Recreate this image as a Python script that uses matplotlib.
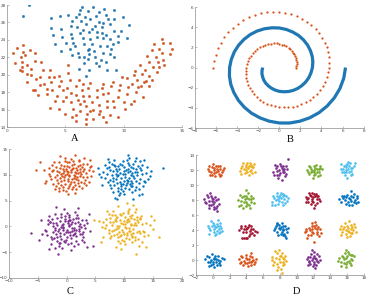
import numpy as np
import matplotlib
matplotlib.use('Agg')
import matplotlib.pyplot as plt

# MATLAB default colour order
BLUE = '#0072BD'
ORANGE = '#D95319'
YELLOW = '#EDB120'
PURPLE = '#7E2F8E'
GREEN = '#77AC30'
LBLUE = '#4DBEEE'
DRED = '#A2142F'

# ---- panel A : blob + crescent -------------------------------------------
a_blue = [(1.38, 26.8), (1.89, 27.96), (6.45, 27.8), (7.4, 27.8), (6.9, 27.3), (8.35, 27.5), (9.2, 27.4),
          (3.8, 26.5), (4.55, 26.8), (5.25, 26.9), (6.15, 27.0), (6.7, 26.65), (7.65, 26.8), (8.5, 26.9),
          (9.2, 26.4), (9.9, 26.65), (5.55, 26.2), (6.35, 26.2), (7.15, 26.35), (7.85, 26.1), (8.65, 26.35),
          (3.75, 25.4), (4.6, 25.25), (5.5, 25.6), (6.0, 25.5), (6.8, 25.8), (7.55, 25.55), (8.15, 25.45),
          (8.8, 25.8), (10.45, 25.75), (9.75, 25.05), (3.95, 24.55), (4.75, 24.35), (5.45, 24.7), (6.25, 24.8),
          (7.0, 24.9), (7.7, 24.9), (8.1, 24.8), (9.15, 25.05), (4.1, 23.55), (5.1, 23.65), (5.6, 24.25),
          (6.5, 24.25), (7.15, 24.1), (7.75, 24.3), (8.25, 24.25), (8.8, 24.15), (10.25, 24.25), (9.55, 23.8),
          (4.6, 22.7), (5.4, 22.95), (5.85, 23.35), (6.6, 23.5), (7.3, 23.55), (7.95, 23.3), (8.6, 23.3),
          (9.1, 23.5), (6.05, 22.5), (6.9, 22.9), (7.45, 22.75), (8.2, 22.45), (8.85, 22.35), (5.55, 22.3),
          (6.15, 22.05), (7.05, 22.35), (7.55, 22.05), (8.05, 21.7), (9.15, 22.05), (6.6, 21.35), (7.6, 21.4),
          (8.5, 21.45), (6.15, 20.7), (7.05, 20.6), (8.55, 20.6), (9.3, 20.55), (6.75, 19.9),
          (6.3, 27.4), (7.9, 27.2), (5.9, 26.6), (8.2, 25.9), (6.5, 25.1), (7.3, 25.2), (9.5, 24.5),
          (8.5, 24.6), (7.0, 23.0), (8.9, 23.0), (5.7, 23.6), (6.6, 22.0), (7.9, 21.0), (6.9, 21.8)]

a_orange = [(0.5, 22.45), (0.7, 21.4), (0.85, 23.1), (1.2, 22.05), (1.4, 23.45), (1.35, 22.65), (1.3, 21.5),
            (1.25, 20.9), (1.3, 20.4), (1.55, 22.25), (1.75, 21.1), (1.95, 22.9), (1.75, 20.1), (1.7, 19.15),
            (2.1, 19.95), (2.1, 20.7), (2.4, 22.5), (2.4, 21.6), (2.5, 19.55), (2.95, 21.45), (3.1, 20.5),
            (2.4, 18.25), (2.7, 17.7), (2.8, 18.8), (3.2, 19.0), (3.4, 18.4), (3.65, 20.5), (3.6, 19.7),
            (3.8, 19.15), (3.7, 16.2), (4.1, 17.05), (3.9, 18.2), (4.0, 19.7), (4.3, 17.6), (4.5, 19.9),
            (4.45, 18.7), (4.5, 16.05), (4.65, 19.25), (4.8, 18.2), (5.0, 15.55), (5.1, 17.45), (5.2, 21.1),
            (5.25, 20.2), (5.15, 18.5), (5.4, 19.35), (5.45, 17.9), (5.45, 16.9), (5.6, 15.15), (5.7, 16.1),
            (5.9, 17.65), (5.95, 18.7), (6.15, 19.45), (6.1, 17.15), (6.25, 16.7), (5.9, 14.75), (6.4, 18.25),
            (6.55, 18.9), (6.55, 17.55), (6.6, 17.05), (6.75, 16.4), (6.75, 14.95), (6.8, 14.4), (6.85, 15.55),
            (6.95, 18.5), (7.05, 17.6), (7.1, 19.05), (7.25, 16.9), (7.4, 16.0), (7.4, 14.95), (7.7, 18.25),
            (7.75, 17.45), (7.9, 16.55), (7.85, 15.5), (8.1, 18.5), (8.2, 17.75), (8.25, 19.0), (8.5, 14.6),
            (8.6, 17.05), (8.65, 17.9), (8.8, 15.35), (8.95, 18.7), (9.05, 19.2), (9.1, 17.05), (9.2, 16.3),
            (9.55, 15.15), (9.55, 17.45), (9.6, 18.2), (9.7, 18.8), (9.85, 19.8), (10.0, 16.9), (10.15, 16.05),
            (10.25, 17.75), (10.35, 18.6), (10.3, 19.65), (10.6, 16.65), (10.7, 19.0), (10.85, 19.95),
            (10.95, 20.45), (11.05, 18.0), (11.1, 19.4), (11.4, 21.1), (11.5, 18.75), (11.65, 17.45),
            (11.55, 20.05), (11.85, 20.5), (11.9, 19.3), (12.0, 22.15), (12.15, 21.45), (12.15, 19.9),
            (12.2, 18.75), (12.4, 22.85), (12.5, 20.85), (12.6, 23.5), (12.75, 22.05), (12.85, 20.35),
            (12.9, 21.5), (13.05, 22.95), (13.25, 24.15), (13.3, 22.45), (13.4, 23.65), (13.45, 21.1),
            (14.0, 23.7), (14.1, 23.0), (14.0, 22.35), (13.4, 21.75), (13.0, 20.9), (12.4, 19.45),
            (11.7, 19.2), (11.25, 18.6), (10.85, 17.05), (1.1, 20.5), (2.25, 18.2), (2.8, 19.75),
            (3.4, 17.85), (4.8, 17.05), (6.25, 15.9), (7.1, 15.9), (7.95, 15.9), (8.55, 16.3),
            (8.25, 15.15), (5.95, 15.35)]

# ---- panel B : two spirals (angle in degrees, radius) ---------------------
b_blue_deg = [180, 190, 200, 210, 220, 230, 240, 250, 260, 270, 280, 290, 300, 310, 320, 330, 340, 350,
              360, 370, 380, 390, 400, 410, 420, 430, 440, 450, 460, 470, 480, 490, 500, 510, 520, 530,
              540, 550, 560, 570, 580, 590, 600, 610, 620, 630, 640, 650, 660, 670, 680, 690, 700, 710, 720]
b_blue_r = [1.57, 1.66, 1.75, 1.83, 1.92, 2.01, 2.09, 2.18, 2.27, 2.36, 2.44, 2.53, 2.62, 2.71, 2.79, 2.88,
            2.97, 3.05, 3.14, 3.23, 3.32, 3.40, 3.49, 3.58, 3.67, 3.75, 3.84, 3.93, 4.01, 4.10, 4.19, 4.28,
            4.36, 4.45, 4.54, 4.62, 4.71, 4.80, 4.89, 4.97, 5.06, 5.15, 5.24, 5.32, 5.41, 5.50, 5.59, 5.67,
            5.76, 5.85, 5.93, 6.02, 6.11, 6.20, 6.28]
b_orange_deg = [0, 6, 12, 18, 24, 30, 36, 42, 48, 54, 60, 66, 72, 78, 84, 90, 96, 102, 108, 114, 120, 126,
                132, 138, 144, 150, 156, 162, 168, 174, 180, 186, 192, 198, 204, 210, 216, 222, 228, 234,
                240, 246, 252, 258, 264, 270, 276, 282, 288, 294, 300, 306, 312, 318, 324, 330, 336, 342,
                348, 354, 360, 366, 372, 378, 384, 390, 396, 402, 408, 414, 420, 426, 432, 438, 444, 450,
                456, 462, 468, 474, 480, 486, 492, 498, 504, 510, 516, 522, 528, 534, 540]
b_orange_r = [1.57, 1.62, 1.68, 1.73, 1.78, 1.83, 1.88, 1.94, 1.99, 2.04, 2.09, 2.15, 2.20, 2.25, 2.30,
              2.36, 2.41, 2.46, 2.51, 2.57, 2.62, 2.67, 2.72, 2.78, 2.83, 2.88, 2.93, 2.98, 3.04, 3.09,
              3.14, 3.19, 3.25, 3.30, 3.35, 3.40, 3.46, 3.51, 3.56, 3.61, 3.67, 3.72, 3.77, 3.82, 3.87,
              3.93, 3.98, 4.03, 4.08, 4.14, 4.19, 4.24, 4.29, 4.35, 4.40, 4.45, 4.50, 4.56, 4.61, 4.66,
              4.71, 4.76, 4.82, 4.87, 4.92, 4.97, 5.03, 5.08, 5.13, 5.18, 5.24, 5.29, 5.34, 5.39, 5.45,
              5.50, 5.55, 5.60, 5.65, 5.71, 5.76, 5.81, 5.86, 5.92, 5.97, 6.02, 6.07, 6.13, 6.18, 6.23, 6.28]

# ---- panel C : four gaussian-looking blobs (offsets in tenths) -----------
c_centers = [(0.5, 10.0), (10.0, 9.8), (0.0, -0.5), (10.0, 0.0)]
c_colors = [ORANGE, BLUE, PURPLE, YELLOW]
c_offsets = [
    [(-3, 5), (12, -8), (-15, 2), (6, 14), (-22, -10), (18, 6), (0, -3), (-8, -17), (25, 12), (-30, 8),
     (9, -20), (-5, 24), (14, 18), (-18, -25), (3, 9), (-11, 11), (20, -14), (-26, -4), (7, -6), (-2, -12),
     (30, -5), (-14, 20), (11, 3), (-7, -1), (16, -22), (-35, 14), (2, 30), (-20, -15), (24, 22), (-9, 7),
     (5, -28), (-16, -6), (13, 10), (-4, 18), (19, -2), (-24, 16), (8, -13), (-12, -30), (28, 4), (-1, 0),
     (-29, -18), (15, -10), (4, 20), (-10, -9), (22, 15), (-6, 12), (10, -3), (-19, 5), (1, -18), (-27, 24),
     (17, 26), (-13, -2), (6, -24), (-32, -8), (26, -16), (-3, -25), (12, 13), (-8, 27), (33, 10), (-21, 0),
     (9, 6), (-15, -20), (0, 15), (21, -25), (-36, 2), (4, -8), (-5, 8), (14, -16), (-23, -22), (18, 19),
     (-9, -5), (27, -10), (-1, 24), (7, 0), (-17, 14), (11, -27), (-28, 10), (3, -14), (23, 8), (-12, 3),
     (-40, -12), (35, 16), (-6, -32), (16, 28), (-19, 25), (29, -20), (2, 5), (-10, 17), (8, 21), (-25, -28),
     (13, -5), (-3, -8), (20, 1), (-14, -12), (5, 11), (-31, 20), (38, -2), (-7, 32), (10, -35), (-22, 8),
     (31, 22), (-18, -32), (0, -22), (15, 4), (-11, -24), (24, -4), (-33, -2), (6, 26), (-4, 2), (19, 11),
     (40, 8), (36, 28), (38, 18), (-45, 10), (-42, -16), (9, 38), (-16, 36), (-2, -38), (26, 33), (34, -14),
     (-58, 10), (-52, 25)],
    [(4, -7), (-13, 9), (16, -1), (-6, -15), (21, 13), (-19, -4), (2, 4), (9, 22), (-24, 11), (12, -19),
     (-3, 28), (27, -6), (-10, -23), (6, 14), (-16, 19), (18, 8), (-1, -9), (-28, -12), (14, -13), (-7, 6),
     (24, 20), (-21, 24), (8, -26), (-12, -1), (31, 3), (0, 17), (-17, -18), (11, 1), (-5, -5), (20, -22),
     (-30, 4), (5, 30), (15, 24), (-9, 13), (26, -14), (-2, -30), (-23, -24), (10, 10), (-14, 3), (3, -18),
     (29, 12), (-8, -12), (17, -4), (-26, 18), (7, -10), (-4, 21), (22, 2), (-11, -29), (13, -32), (-19, 9),
     (1, -2), (34, -10), (-15, 14), (6, 7), (-33, -5), (19, 29), (-6, -20), (12, 17), (-20, -10), (25, -25),
     (-1, 10), (8, -4), (-27, 26), (16, 15), (-10, 1), (2, -24), (30, 22), (-13, -14), (21, -10), (-3, 3),
     (9, 34), (-36, 8), (14, -20), (-18, 30), (4, -14), (-8, 23), (23, 8), (-24, -17), (11, -9), (-5, -26),
     (38, 5), (-30, 15), (0, -36), (18, -28), (-15, -6), (7, 25), (33, -20), (-22, 2), (3, 12), (-11, 19),
     (27, 16), (-40, -3), (13, 5), (-7, -34), (20, 35), (-2, -16), (36, -12), (-17, 22), (10, -15), (-25, -7),
     (45, 0), (40, 18), (-45, 16), (-38, -18), (25, -38), (-16, -42), (-12, -45), (30, -35), (6, 40), (-28, 32),
     (67, 15), (42, -6), (-43, 3), (15, -44), (28, 29), (-33, 22), (-9, -38), (47, 10), (35, 30), (-20, -32)],
    [(-6, 3), (11, -12), (-17, 7), (4, 18), (-24, -6), (15, 11), (1, -1), (-10, -20), (22, -3), (-29, 14),
     (7, -17), (-3, 26), (19, 21), (-14, -27), (5, 6), (-12, 15), (23, -9), (-21, -1), (9, -3), (-4, -10),
     (28, -16), (-16, 22), (13, 1), (-9, 4), (17, -24), (-32, 9), (0, 32), (-22, -18), (26, 17), (-7, 10),
     (3, -30), (-18, -9), (10, 13), (-2, 16), (21, 0), (-26, 20), (6, -11), (-13, -33), (30, 7), (2, -5),
     (-27, -15), (14, -7), (5, 23), (-11, -13), (24, 10), (-8, 8), (12, -1), (-20, 2), (-1, -21), (-30, 26),
     (18, 28), (-15, -4), (8, -27), (-34, -11), (27, -22), (-5, -24), (11, 19), (-10, 29), (32, 2), (-23, 5),
     (7, 9), (-17, -23), (2, 12), (20, -30), (-38, -1), (6, -6), (-6, 1), (16, -14), (-25, -20), (16, 22),
     (-11, -8), (29, -5), (-3, 20), (9, 2), (-19, 12), (13, -32), (-28, 13), (1, -16), (25, 4), (-13, 0),
     (-42, -9), (36, 12), (-8, -36), (14, 33), (-21, 30), (31, -26), (4, 7), (-9, 24), (6, 17), (-27, -30),
     (12, -9), (-1, -6), (22, 5), (-16, -16), (3, 15), (-33, 17), (40, -4), (-5, 38), (8, -40), (-24, 11),
     (33, 18), (-20, -36), (-2, -26), (17, -2), (-12, -28), (26, -10), (-35, -4), (4, 28), (-6, -2), (20, 14),
     (-62, -7), (-15, -48), (45, -33), (-44, 18), (38, 30), (-30, -38), (35, -35), (-18, 42), (20, 40), (-48, -22)],
    [(3, -4), (-14, 10), (17, 2), (-5, -16), (22, 12), (-18, -7), (1, 5), (10, 20), (-25, 8), (13, -18),
     (-2, 27), (26, -8), (-11, -21), (7, 15), (-15, 17), (19, 6), (-3, -10), (-27, -13), (15, -12), (-6, 7),
     (23, 19), (-22, 22), (9, -25), (-11, -3), (30, 5), (1, 18), (-18, -17), (12, 2), (-4, -6), (19, -21),
     (-31, 3), (6, 29), (14, 23), (-8, 12), (27, -13), (-1, -29), (-24, -23), (9, 11), (-13, 1), (4, -17),
     (28, 14), (-9, -11), (16, -5), (-25, 17), (8, -9), (-5, 22), (21, 3), (-10, -28), (14, -31), (-20, 8),
     (2, -1), (33, -9), (-16, 13), (5, 8), (-34, -4), (18, 28), (-7, -19), (11, 16), (-21, -9), (24, -24),
     (0, 11), (9, -3), (-26, 25), (17, 14), (-9, 0), (3, -23), (29, 21), (-12, -15), (22, -11), (-2, 4),
     (8, 33), (-37, 9), (13, -21), (-19, 29), (5, -13), (-7, 24), (24, 9), (-23, -18), (10, -8), (-4, -27),
     (37, 6), (-31, 14), (1, -35), (19, -27), (-14, -5), (6, 26), (34, -19), (-21, 3), (4, 13), (-12, 18),
     (28, 17), (-39, -2), (12, 4), (-8, -33), (21, 34), (-1, -15), (35, -11), (-16, 23), (11, -14), (-26, -6),
     (44, 2), (41, -17), (-44, 11), (-36, -20), (26, -37), (-15, -40), (52, 12), (30, -30), (5, 45), (-30, 30),
     (60, -20), (20, -53), (-52, 12), (46, 20), (-40, -30), (38, -40), (-10, 40), (15, 42), (-5, -44), (50, -5)],
]

# ---- panel D : 4x5 grid of small clusters (offsets in tenths) ------------
d_centers = [(0.2, 12.0), (4.1, 12.2), (8.0, 11.9), (12.0, 11.9), (15.9, 12.2),
             (-0.1, 7.8), (3.9, 8.0), (7.9, 8.2), (11.85, 8.2), (16.2, 8.1),
             (0.3, 4.3), (4.1, 4.1), (8.1, 4.1), (11.85, 3.9), (16.0, 4.1),
             (0.1, 0.0), (4.1, 0.0), (7.9, 0.0), (11.9, 0.0), (15.8, 0.2)]
d_colors = [ORANGE, YELLOW, PURPLE, GREEN, LBLUE,
            PURPLE, GREEN, LBLUE, DRED, BLUE,
            LBLUE, DRED, BLUE, ORANGE, YELLOW,
            BLUE, ORANGE, YELLOW, PURPLE, GREEN]
d_offsets = [
    [(-8, 2), (-5, -6), (-3, 4), (0, 0), (2, -3), (4, 6), (6, 1), (9, -2), (11, 3), (-6, -1), (-2, 8), (1, -8), (3, 2),
     (5, -5), (7, 5), (-4, -3), (-1, 3), (2, 6), (8, -6), (-7, 5), (0, -4), (4, -1), (6, -8), (-3, -7), (10, 0)],
    [(-9, -3), (-6, 3), (-4, -1), (-2, 5), (0, -4), (1, 1), (3, 7), (5, -2), (7, 2), (9, -5), (-7, -7), (-3, -6), (2, -8),
     (4, 4), (6, -6), (8, 6), (-5, 7), (-1, 2), (3, -3), (6, 2), (-8, 1), (0, 8), (2, 3), (5, 5), (-2, -2)],
    [(-8, -2), (-5, 4), (-3, -5), (-1, 1), (1, 6), (3, -2), (5, 3), (7, -4), (8, 2), (-6, 8), (-2, -9), (0, -3), (2, -12),
     (4, 7), (6, -7), (-4, 0), (-1, -6), (2, 4), (5, -1), (7, 6), (-7, -5), (0, 9), (3, 1), (9, 16), (-3, 6)],
    [(-8, 1), (-6, -4), (-4, 5), (-2, 0), (0, -6), (2, 4), (4, -2), (6, 3), (8, -5), (10, 2), (-5, 7), (-3, -2), (1, 1),
     (3, 8), (5, -7), (7, 6), (-7, -1), (-1, -9), (2, -4), (6, -1), (-3, 3), (0, 6), (4, 2), (8, 4), (1, -2)],
    [(-7, 0), (-5, -5), (-3, 3), (-1, -2), (1, 6), (3, -4), (5, 1), (7, -7), (9, 3), (-6, 6), (-2, -8), (0, 2), (2, -1),
     (4, 8), (6, -3), (-4, -1), (1, -12), (3, 4), (5, -9), (10, 8), (-1, 5), (2, 9), (7, 1), (-3, -4), (0, -5)],
    [(-10, 3), (-7, -2), (-5, 6), (-3, 1), (-1, -4), (1, 4), (3, -1), (5, 2), (8, -3), (-6, 9), (-4, -5), (-2, 11), (0, 1),
     (2, -7), (4, 6), (6, -6), (-8, -1), (-1, 7), (3, -10), (6, -13), (5, -9), (1, -3), (-3, -8), (7, 3), (0, 5)],
    [(-9, 0), (-6, -6), (-4, 4), (-2, -2), (0, 6), (2, -5), (4, 1), (6, -3), (9, 3), (-7, 7), (-3, -11), (-1, 1), (1, -8),
     (3, 9), (5, -10), (-5, -1), (2, 3), (7, 6), (-8, -8), (0, 13), (4, -6), (10, -4), (-2, 5), (6, 2), (1, -2)],
    [(-8, -5), (-6, 1), (-4, -2), (-2, 4), (0, -3), (2, 1), (4, 6), (6, -1), (8, 3), (-9, -8), (-3, 7), (-1, -7), (1, 5),
     (3, -5), (5, 4), (7, -6), (10, 1), (-5, -9), (0, 2), (4, -9), (-7, 3), (2, 8), (6, 5), (9, -3), (-1, 0)],
    [(-7, 2), (-5, -4), (-3, 5), (-1, 0), (1, -5), (3, 3), (5, -1), (7, 4), (9, -3), (-6, -1), (-2, -7), (0, 8), (2, -12),
     (4, 6), (6, -6), (-4, 7), (0, -3), (3, -8), (8, 0), (-8, -4), (1, 2), (5, 3), (-2, 3), (2, 6), (-5, 1)],
    [(-12, 0), (-9, -3), (-7, 2), (-5, -1), (-3, 3), (-1, -4), (1, 1), (3, -2), (5, 3), (7, -1), (9, 2), (11, -3), (-6, 5),
     (-2, 6), (0, -7), (2, 5), (4, -8), (6, 7), (8, -5), (-4, -6), (0, 2), (3, 11), (-8, 4), (10, 4), (6, -3)],
    [(-9, 3), (-6, -3), (-4, 2), (-2, -5), (0, 1), (2, 5), (4, -2), (6, 3), (8, -4), (-7, -8), (-3, 7), (-1, -1), (1, -8),
     (3, 2), (5, 7), (-5, 9), (0, -10), (2, -4), (7, 0), (-1, 4), (4, -7), (-8, 0), (3, 10), (6, -6), (1, 1)],
    [(-10, -1), (-7, 2), (-5, -3), (-3, 4), (-1, 0), (1, 3), (3, -2), (5, 5), (7, 1), (9, -2), (12, -3), (-6, -11),
     (-4, -11), (-2, -11), (0, -11), (2, -9), (-8, 5), (-2, -4), (2, 6), (4, 0), (6, -5), (0, 2), (-4, 1), (8, -7), (3, -6)],
    [(-8, -1), (-6, 4), (-4, -3), (-2, 2), (0, -6), (1, 8), (3, -1), (5, 4), (7, -3), (-5, 7), (-3, -8), (-1, 0), (1, -4),
     (3, 5), (5, -9), (6, -12), (4, -6), (-7, 2), (0, 3), (2, 1), (-2, 6), (-4, 9), (8, 2), (2, -7), (6, 1)],
    [(-9, -2), (-7, 3), (-5, -5), (-3, 1), (-1, 6), (1, -3), (3, 4), (5, -1), (7, 5), (9, 2), (-6, -9), (-2, -6), (0, 10),
     (2, -15), (4, 8), (6, -4), (8, -7), (-4, 4), (0, -2), (3, 12), (-8, 0), (10, -3), (5, 2), (-1, 2), (2, 6)],
    [(-9, 1), (-6, -4), (-4, 3), (-2, -1), (0, 5), (2, -3), (4, 1), (6, -5), (9, 3), (-7, -8), (-3, 8), (-1, -6), (1, 2),
     (3, -9), (5, 6), (7, -1), (10, -3), (-5, 0), (0, -10), (2, 11), (4, -5), (-8, 5), (6, 3), (1, -2), (8, 7)],
    [(-10, 2), (-7, -3), (-5, 4), (-3, 0), (-1, -5), (1, 3), (3, -2), (5, 5), (7, -1), (10, 3), (-6, -8), (-2, 8), (0, -9),
     (2, 6), (4, -7), (6, -4), (-8, 6), (-4, -2), (0, 2), (3, 1), (8, -6), (-1, -2), (5, 0), (12, 2), (-3, -7)],
    [(-10, 1), (-8, -3), (-6, 4), (-4, -1), (-2, 3), (0, -4), (2, 2), (4, -2), (6, 4), (8, -5), (10, 2), (-5, -7), (-1, 7),
     (1, -8), (3, 6), (5, -6), (7, 0), (-7, 6), (-3, -4), (0, 1), (4, 9), (9, -2), (-9, -4), (2, -3), (6, -1)],
    [(-9, 4), (-6, -2), (-4, 3), (-2, -5), (0, 1), (2, 6), (4, -3), (6, 2), (8, -1), (-7, -6), (-3, 9), (-1, -9), (1, -3),
     (3, 10), (5, -7), (7, 6), (-5, 12), (0, 14), (2, -12), (3, -17), (-2, -13), (4, 3), (-8, 0), (1, 5), (6, -5)],
    [(-7, 2), (-5, -3), (-3, 4), (-1, 0), (1, -5), (3, 3), (5, -1), (7, 5), (-6, -7), (-2, 8), (0, -8), (2, 11), (4, -6),
     (6, -2), (-4, -1), (1, 6), (3, -10), (-1, 13), (5, 8), (-6, 4), (0, 3), (4, 2), (2, -3), (-3, -5), (8, 0)],
    [(-8, 1), (-6, -4), (-4, 4), (-2, -1), (0, -7), (2, 3), (4, -3), (6, 5), (8, -2), (10, 3), (-5, -10), (-1, 8), (1, -11),
     (3, 9), (5, -6), (7, 0), (-9, -3), (-3, 2), (0, 12), (2, -4), (6, -8), (4, 6), (-2, -6), (8, 5), (1, 1)],
]


def style_axes(ax, xlim, ylim, xticks, yticks):
    ax.set_xlim(xlim)
    ax.set_ylim(ylim)
    ax.set_xticks(xticks)
    ax.set_yticks(yticks)
    for s in ['top', 'right']:
        ax.spines[s].set_visible(False)
    for s in ['left', 'bottom']:
        ax.spines[s].set_color('#8c8c8c')
        ax.spines[s].set_linewidth(0.5)
    ax.tick_params(direction='in', length=1.5, width=0.4, color='#8c8c8c',
                   labelsize=3, pad=1, labelcolor='#444444')


fig = plt.figure(figsize=(3.67, 2.97), dpi=100)

# A
ax = fig.add_axes([0.019, 0.572, 0.477, 0.411])
p = np.array(a_orange)
ax.scatter(p[:, 0], p[:, 1], s=3.2, c=ORANGE, edgecolors='#b8451a', linewidths=0.2)
p = np.array(a_blue)
ax.scatter(p[:, 0], p[:, 1], s=3.2, c='#1f7ab8', edgecolors='#1a5f90', linewidths=0.2)
style_axes(ax, (0, 15), (14, 28), [0, 5, 10, 15], range(14, 29, 2))

# B
ax = fig.add_axes([0.531, 0.569, 0.460, 0.407])
t = np.deg2rad(b_blue_deg)
r = np.array(b_blue_r)
ax.plot(r * np.cos(t), r * np.sin(t), color='#1f77b4', lw=2.3, solid_capstyle='butt')
t = np.deg2rad(b_orange_deg)
r = np.array(b_orange_r)
ax.scatter(r * np.cos(t), r * np.sin(t), s=2.6, c=ORANGE, linewidths=0)
style_axes(ax, (-8, 8), (-6, 6), range(-8, 9, 2), range(-6, 7, 2))

# C
ax = fig.add_axes([0.0245, 0.064, 0.471, 0.434])
for (cx, cy), col, off in zip(c_centers, c_colors, c_offsets):
    o = np.array(off) / 10.0
    ax.scatter(cx + o[:, 0], cy + o[:, 1], s=3.0, c=col, linewidths=0)
style_axes(ax, (-10, 20), (-10, 15), range(-10, 21, 5), range(-10, 16, 5))

# D
ax = fig.add_axes([0.534, 0.074, 0.458, 0.404])
for (cx, cy), col, off in zip(d_centers, d_colors, d_offsets):
    o = np.array(off) / 10.0
    ax.scatter(cx + o[:, 0], cy + o[:, 1], s=3.6, c=col, linewidths=0)
style_axes(ax, (-2, 18), (-2, 14), range(-2, 19, 2), range(-2, 15, 2))

for x, y, lab in [(0.204, 0.532, 'A'), (0.79, 0.529, 'B'), (0.19, 0.017, 'C'), (0.809, 0.017, 'D')]:
    fig.text(x, y, lab, family='Liberation Serif', fontsize=7.5, ha='center', va='center')

fig.savefig('out.png', dpi=100)
